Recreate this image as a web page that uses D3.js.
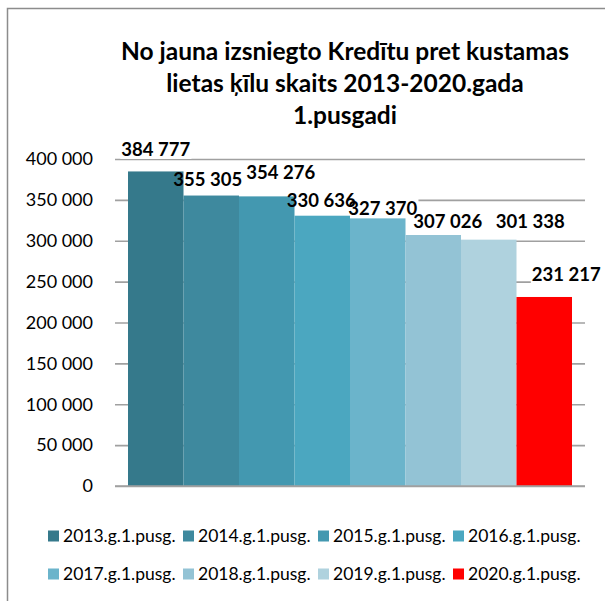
<!DOCTYPE html>
<html>
<head>
<meta charset="utf-8">
<script src="https://cdn.jsdelivr.net/npm/d3@7"></script>
<style>
  body { margin: 0; background: #fff; }
  svg { font-family: Lato, "Liberation Sans", sans-serif; }
</style>
</head>
<body>
<div id="chart"></div>
<script>
// data
const seriesNames = ['2013.g.1.pusg.', '2014.g.1.pusg.', '2015.g.1.pusg.', '2016.g.1.pusg.',
                     '2017.g.1.pusg.', '2018.g.1.pusg.', '2019.g.1.pusg.', '2020.g.1.pusg.'];
const values = [384777, 355305, 354276, 330636, 327370, 307026, 301338, 231217];
const colors = ['#35798b', '#3e899e', '#4398b0', '#4ba7c0', '#6bb4cb', '#93c3d5', '#afd2de', '#ff0000'];
const yTicks = [0, 50000, 100000, 150000, 200000, 250000, 300000, 350000, 400000];
const titleLines = ['No jauna izsniegto Kredītu pret kustamas', 'lietas ķīlu skaits 2013-2020.gada', '1.pusgadi'];

// labels were dragged around by hand in the original, so nudge them (px)
const labelDx = [0, -3.5, 14, -1, 5, 14.5, 41.5, 22];
const labelLift = [22, 16, 23.5, 15, 9.5, 13.5, 18.5, 22.5];

const width = 605, height = 601;

const svg = d3.select('#chart')
      .append('svg')
      .attr('width', width)
      .attr('height', height);

// chart frame (runs off the right and bottom like the screenshot)
svg.append('rect')
   .attr('x', 7.5).attr('y', 8.5)
   .attr('width', 640).attr('height', 640)
   .attr('fill', 'none')
   .attr('stroke', '#8c8c8c')
   .attr('stroke-width', 1.5);

// title
svg.append('g')
   .selectAll('text')
   .data(titleLines)
   .enter()
   .append('text')
   .attr('x', 345)
   .attr('y', function(d, i){ return 60 + i * 32; })
   .attr('text-anchor', 'middle')
   .attr('font-weight', 'bold')
   .attr('font-size', '24.5px')
   .attr('fill', '#000')
   .text(function(d){ return d; });

// scales
const yScale = d3.scaleLinear()
      .domain([0, 400000])
      .range([486, 159]);

const xScale = d3.scaleBand()
      .domain(seriesNames)
      .range([128, 572])
      .padding(0);

const fmt = d3.formatLocale({decimal: ',', thousands: '\u00a0', grouping: [3]}).format(',d');

// gridlines + ticks
const yAxis = d3.axisLeft(yScale)
      .tickValues(yTicks)
      .tickSize(-(585 - 115))
      .tickFormat(fmt);

const yAxisG = svg.append('g')
      .attr('class', 'axis')
      .attr('transform', 'translate(115,0)')
      .call(yAxis);
yAxisG.select('.domain').remove();
yAxisG.selectAll('.tick line')
      .attr('stroke', '#a0a0a0')
      .attr('stroke-width', 1.6);
yAxisG.selectAll('.tick text')
      .attr('x', 93 - 115)
      .attr('font-size', '18px')
      .attr('fill', '#000')
      .attr('font-family', 'Lato, sans-serif');

// label boxes go under the bars: they only hide the gridlines
const boxG = svg.append('g');
const barG = svg.append('g');
const textG = svg.append('g');

// bars
barG.selectAll('.bar')
   .data(values)
   .enter()
   .append('rect')
   .attr('class', 'bar')
   .attr('x', function(d, i){ return xScale(seriesNames[i]); })
   .attr('y', function(d){ return yScale(d); })
   .attr('width', xScale.bandwidth())
   .attr('height', function(d){ return yScale(0) - yScale(d); })
   .attr('fill', function(d, i){ return colors[i]; });

// baseline on top
barG.append('line')
   .attr('x1', 115).attr('x2', 585)
   .attr('y1', yScale(0)).attr('y2', yScale(0))
   .attr('stroke', '#a0a0a0')
   .attr('stroke-width', 1.6);

// value labels
const labels = textG.selectAll('.lbl')
   .data(values)
   .enter()
   .append('text')
   .attr('class', 'lbl')
   .attr('x', function(d, i){ return xScale(seriesNames[i]) + xScale.bandwidth() / 2 + labelDx[i]; })
   .attr('y', function(d, i){ return yScale(d) - labelLift[i] + 6.5; })
   .attr('text-anchor', 'middle')
   .attr('font-weight', 'bold')
   .attr('font-size', '18.5px')
   .attr('fill', '#000')
   .text(function(d){ return fmt(d); });
labels.each(function(){
  const b = this.getBBox();
  boxG.append('rect')
      .attr('fill', '#fff')
      .attr('x', b.x - 1).attr('y', b.y + 1)
      .attr('width', b.width + 2).attr('height', b.height - 2);
});

// legend, two rows of four
const legend = svg.append('g')
      .selectAll('g')
      .data(seriesNames)
      .enter()
      .append('g')
      .attr('transform', function(d, i){
        return 'translate(' + (48 + (i % 4) * 135) + ',' + (536 + Math.floor(i / 4) * 38) + ')';
      });
legend.append('rect')
      .attr('x', 0).attr('y', -5.5)
      .attr('width', 11).attr('height', 11)
      .attr('fill', function(d, i){ return colors[i]; });
legend.append('text')
      .attr('x', 15)
      .attr('y', 6)
      .attr('font-size', '17.5px')
      .attr('fill', '#000')
      .text(function(d){ return d; });
</script>
</body>
</html>
